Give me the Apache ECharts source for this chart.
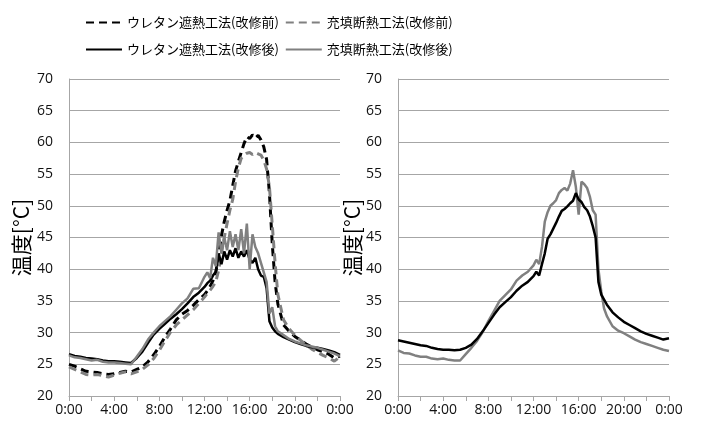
<!DOCTYPE html>
<html lang="ja">
<head>
<meta charset="utf-8">
<title>温度</title>
<script src="https://cdn.jsdelivr.net/npm/echarts@6/dist/echarts.min.js"></script>
<style>
    html, body { margin: 0; padding: 0; background: #fff; }
    #chart { width: 702px; height: 429px; }
</style>
</head>
<body>
<div id="chart"></div>
<script>
// time of day in hours (finer steps around the noisy afternoon peak)
const hours = [
    0, 0.5, 1, 1.5, 2, 2.5, 3, 3.5, 4, 4.5, 5, 5.5, 6, 6.5, 7, 7.5, 8, 8.5, 9, 9.5, 10, 10.5, 11, 11.5, 12,
    12.25, 12.5, 12.75, 13, 13.25, 13.5, 13.75, 14, 14.25, 14.5, 14.75, 15, 15.25, 15.5, 15.75, 16,
    16.25, 16.5, 16.75, 17, 17.25, 17.5, 17.75, 18, 18.25, 18.5,
    19, 19.5, 20, 20.5, 21, 21.5, 22, 22.5, 23, 23.5, 24,
];
const xTickLabels = ["0:00", "4:00", "8:00", "12:00", "16:00", "20:00", "0:00"];
const yAxisName = "温度[°C]";

const nameUrethanePre = "ウレタン遮熱工法(改修前)";
const nameFillPre = "充填断熱工法(改修前)";
const nameUrethanePost = "ウレタン遮熱工法(改修後)";
const nameFillPost = "充填断熱工法(改修後)";

// left panel
const urethanePre = [
    25.0, 24.7, 24.3, 23.9, 23.8, 23.7, 23.5, 23.4, 23.5, 23.7, 23.9, 23.8, 24.2, 24.6, 25.4, 26.5, 27.8, 29.3, 30.6, 32.0, 32.9, 33.5, 34.3, 35.2, 36.0,
    36.6, 37.3, 38.2, 39.5, 42.2, 45.3, 47.5, 49.3, 50.8, 53.2, 55.5, 57.0, 58.4, 59.8, 60.9, 60.6,
    61.2, 60.7, 61.1, 60.4, 59.3, 57.3, 52.0, 44.0, 38.0, 34.5,
    31.2, 30.2, 29.4, 28.8, 28.2, 27.7, 27.3, 27.0, 26.6, 26.0, 26.3,
];
const fillPre = [
    24.6, 24.2, 23.8, 23.4, 23.3, 23.4, 23.2, 23.0, 23.3, 23.6, 23.8, 23.5, 23.8, 24.2, 24.9, 25.9, 27.2, 28.7, 30.1, 31.2, 32.0, 32.8, 33.6, 34.6, 35.6,
    36.2, 36.7, 37.3, 38.0, 39.8, 42.5, 45.0, 47.2, 49.3, 51.0, 53.8, 56.0, 57.5, 58.0, 58.3, 58.4,
    58.1, 58.4, 58.2, 58.0, 57.2, 55.8, 53.0, 47.0, 41.0, 36.0,
    32.0, 30.6, 29.6, 28.8, 28.1, 27.4, 26.9, 26.4, 26.0, 25.5, 26.2,
];
const urethanePostL = [
    26.6, 26.3, 26.2, 26.0, 25.9, 25.8, 25.6, 25.5, 25.5, 25.4, 25.3, 25.2, 26.0, 27.0, 28.4, 29.7, 30.6, 31.4, 32.2, 32.9, 33.7, 34.6, 35.6, 36.3, 37.2,
    37.8, 38.2, 39.0, 39.6, 42.5, 40.8, 42.8, 41.5, 43.0, 42.0, 43.3, 41.8, 42.8, 42.0, 43.0, 41.5,
    41.0, 41.8, 40.0, 39.0, 38.8, 37.0, 31.8, 30.8, 30.2, 29.8,
    29.3, 28.9, 28.5, 28.2, 27.9, 27.7, 27.6, 27.4, 27.2, 26.9, 26.5,
];
const fillPostL = [
    26.4, 26.1, 26.0, 25.8, 25.6, 25.7, 25.4, 25.3, 25.3, 25.2, 25.1, 25.0, 26.2, 27.4, 28.9, 30.0, 31.0, 31.8, 32.6, 33.6, 34.6, 35.4, 36.9, 37.0, 38.8,
    39.5, 38.6, 41.8, 40.5, 45.8, 42.5, 45.0, 43.0, 46.0, 43.5, 45.5, 43.0, 46.3, 42.5, 47.2, 40.0,
    45.5, 43.5, 42.5, 41.0, 39.5, 38.0, 33.0, 34.0, 31.0, 30.2,
    29.6, 29.0, 28.6, 28.3, 28.0, 27.8, 27.6, 27.3, 27.0, 26.7, 26.3,
];

// right panel
const urethanePostR = [
    28.8, 28.6, 28.4, 28.2, 28.0, 27.9, 27.6, 27.4, 27.3, 27.3, 27.2, 27.3, 27.6, 28.1, 29.0, 30.2, 31.5, 32.8, 34.0, 34.8, 35.6, 36.6, 37.4, 38.0, 38.9,
    39.6, 39.0, 40.8, 42.5, 44.8, 45.5, 46.4, 47.3, 48.3, 49.2, 49.5, 49.9, 50.4, 50.8, 52.0, 51.0,
    50.6, 49.8, 49.3, 48.3, 46.8, 45.0, 38.0, 36.0, 35.2, 34.4,
    33.2, 32.4, 31.7, 31.2, 30.7, 30.2, 29.8, 29.5, 29.2, 28.9, 29.1,
];
const fillPostR = [
    27.2, 26.8, 26.7, 26.4, 26.2, 26.2, 25.9, 25.8, 25.9, 25.7, 25.6, 25.6, 26.6, 27.6, 28.7, 30.1, 31.8, 33.4, 35.0, 35.9, 36.8, 38.2, 39.0, 39.6, 40.6,
    41.5, 40.8, 43.5, 47.5, 49.0, 50.0, 50.4, 50.9, 52.0, 52.5, 52.8, 52.4, 53.5, 55.6, 53.0, 48.6,
    53.8, 53.4, 52.8, 51.4, 49.3, 48.6, 40.0, 36.5, 33.8, 32.6,
    31.0, 30.3, 29.9, 29.4, 28.9, 28.5, 28.2, 27.9, 27.6, 27.3, 27.1,
];

const axisGray = "#a6a6a6";
const black = "#000000";
const gray = "#808080";
const numFont = "'Open Sans', 'Liberation Sans', sans-serif";
const jpFont = "'Noto Sans CJK JP', sans-serif";

function pairs(values) {
    return hours.map((h, i) => [h, values[i]]);
}

function makeXAxis(gridIndex) {
    return {
        type: "value",
        gridIndex,
        min: 0,
        max: 24,
        interval: 4,
        axisLine: { show: true, onZero: false, lineStyle: { color: axisGray, width: 1 } },
        axisTick: { show: true, length: 5, lineStyle: { color: axisGray } },
        minorTick: { show: true, splitNumber: 2, length: 5, lineStyle: { color: axisGray } },
        splitLine: { show: false },
        axisLabel: {
            color: "#111",
            fontSize: 14,
            fontFamily: numFont,
            margin: 7,
            formatter: (v) => xTickLabels[Math.round(v / 4)],
        },
    };
}

function makeYAxis(gridIndex, nameGap) {
    return {
        type: "value",
        gridIndex,
        min: 20,
        max: 70,
        interval: 5,
        name: yAxisName,
        nameLocation: "middle",
        nameGap,
        nameRotate: 90,
        nameTextStyle: { fontSize: 21, fontFamily: jpFont, color: "#000" },
        axisLine: { show: true, lineStyle: { color: axisGray, width: 1 } },
        axisTick: { show: false },
        splitLine: { show: true, lineStyle: { color: axisGray, width: 1 } },
        axisLabel: { color: "#111", fontSize: 14, fontFamily: numFont, margin: 16 },
    };
}

function lineSeries(name, values, color, dashed, panel) {
    return {
        name,
        type: "line",
        xAxisIndex: panel,
        yAxisIndex: panel,
        data: pairs(values),
        symbol: "none",
        lineStyle: { color, width: dashed ? 3 : 2.5, type: dashed ? [8, 5] : "solid" },
        itemStyle: { color },
        emphasis: { disabled: true },
    };
}

function makeLegend(top, names) {
    return {
        top,
        left: 80,
        itemWidth: 36,
        itemHeight: 14,
        itemGap: 6,
        data: names,
        itemStyle: { opacity: 0 },
        textStyle: { fontSize: 13, fontFamily: jpFont, color: "#000" },
    };
}

const chart = echarts.init(document.getElementById("chart"), null, { renderer: "canvas" });

chart.setOption({
    animation: false,
    backgroundColor: "#ffffff",
    legend: [
        makeLegend(11, [nameUrethanePre, nameFillPre]),
        makeLegend(38, [nameUrethanePost, nameFillPost]),
    ],
    grid: [
        { left: 69, top: 79, width: 271, height: 317 },
        { left: 398, top: 79, width: 271, height: 317 },
    ],
    xAxis: [makeXAxis(0), makeXAxis(1)],
    yAxis: [makeYAxis(0, 37), makeYAxis(1, 18)],
    series: [
        lineSeries(nameUrethanePre, urethanePre, black, true, 0),
        lineSeries(nameFillPre, fillPre, gray, true, 0),
        lineSeries(nameUrethanePost, urethanePostL, black, false, 0),
        lineSeries(nameFillPost, fillPostL, gray, false, 0),
        lineSeries(nameFillPost, fillPostR, gray, false, 1),
        lineSeries(nameUrethanePost, urethanePostR, black, false, 1),
    ],
});
</script>
</body>
</html>
